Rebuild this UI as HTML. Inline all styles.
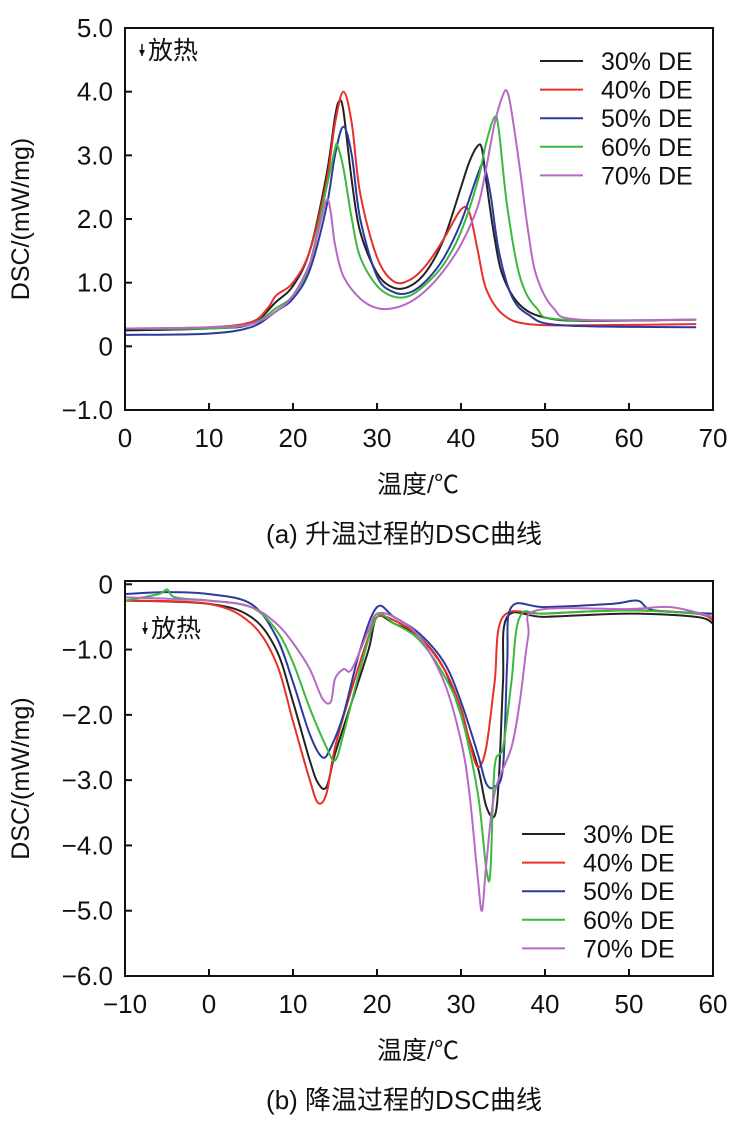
<!DOCTYPE html>
<html><head><meta charset="utf-8"><style>
body{margin:0;background:#fff;}
svg text{font-family:"Liberation Sans","Noto Sans CJK SC",sans-serif;fill:#111;}
</style></head><body>
<svg id="s" width="736" height="1129" viewBox="0 0 736 1129" xmlns="http://www.w3.org/2000/svg"></svg>
<script>
const seriesNames=["30% DE","40% DE","50% DE","60% DE","70% DE"];
const colors=["#222222","#e8302a","#2b3a9c","#3cb83c","#b56ac4"];
const heatX=[
[0,10,15,18,20,22,24,25,25.5,26,27,28,30,32,34,36,38,40,41,42,42.5,43,44,45,47,50,55,68],
[0,10,15,17,18,20,22,24,25,26,27,28,30,32,34,36,38,40,41,42,43,45,48,55,68],
[0,10,15,18,20,22,24,25,26,27,28,30,32,34,36,38,40,42,42.7,43.5,44.5,46,48,52,68],
[0,10,15,18,20,22,24,25,25.3,26,27,28,30,32,34,36,38,40,42,43,44,44.5,45.5,47,49,52,68],
[0,10,15,18,20,22,23,24,24.5,25,26,28,30,32,34,36,38,40,42,43,44,45,45.5,46,47,48,49,51,54,68]];
const heatY=[
[0.25,0.28,0.35,0.7,0.95,1.5,2.7,3.6,3.85,3.7,2.6,1.8,1.15,0.92,0.95,1.2,1.7,2.5,2.9,3.15,3.1,2.6,1.7,1.1,0.65,0.45,0.4,0.42],
[0.28,0.3,0.38,0.6,0.8,1.0,1.5,2.6,3.5,4.0,3.5,2.4,1.4,1.02,1.05,1.3,1.7,2.15,2.1,1.5,0.9,0.5,0.35,0.33,0.35],
[0.18,0.2,0.3,0.55,0.75,1.2,2.2,3.0,3.45,3.0,2.0,1.1,0.85,0.85,1.05,1.4,1.95,2.7,2.85,2.4,1.5,0.8,0.5,0.33,0.3],
[0.28,0.28,0.35,0.6,0.8,1.3,2.5,3.1,3.15,2.8,2.0,1.4,0.95,0.78,0.8,1.0,1.3,1.8,2.6,3.2,3.6,3.4,2.2,1.1,0.6,0.42,0.42],
[0.28,0.3,0.35,0.55,0.8,1.3,1.8,2.3,2.1,1.6,1.1,0.75,0.6,0.6,0.7,0.9,1.2,1.6,2.2,2.8,3.5,3.95,4.0,3.7,2.8,1.8,1.1,0.6,0.42,0.42]];
const coolX=[
[-10,0,5,8,10,12,13,14,15,17,19,20,22,25,28,30,32,33,34,34.5,35,35.5,40,50,58,60],
[-10,0,5,8,10,12,13,14,15,17,19,20,22,25,28,30,31,32,33,34,35,40,50,58,60],
[-10,-5,0,5,8,10,12,13.5,14.5,16,18,20,22,25,28,30,32,33,34,35,35.5,36,40,48,51,53,60],
[-10,-6,-5,-4,0,5,8,10,12,14,15,16,18,20,22,25,28,30,32,33,33.5,34,35,36,37,40,50,58,60],
[-10,0,5,8,10,12,13.5,14.5,15,16,17,19,20,22,25,28,30,31,32,32.5,33,34,36,37,38,39,50,55,60]];
const coolY=[
[-0.25,-0.3,-0.5,-1.0,-1.8,-2.7,-3.05,-3.1,-2.6,-1.8,-1.0,-0.5,-0.6,-0.8,-1.3,-2.0,-2.8,-3.4,-3.55,-3.0,-1.5,-0.5,-0.5,-0.45,-0.5,-0.6],
[-0.25,-0.3,-0.6,-1.2,-2.1,-3.0,-3.35,-3.2,-2.5,-1.6,-0.8,-0.5,-0.55,-0.8,-1.3,-1.9,-2.4,-2.8,-2.5,-1.5,-0.5,-0.45,-0.4,-0.45,-0.55],
[-0.15,-0.12,-0.15,-0.3,-0.8,-1.5,-2.3,-2.65,-2.5,-2.0,-1.0,-0.35,-0.5,-0.75,-1.2,-1.8,-2.6,-3.05,-3.1,-2.8,-1.2,-0.35,-0.35,-0.3,-0.25,-0.4,-0.45],
[-0.25,-0.15,-0.08,-0.2,-0.25,-0.35,-0.7,-1.2,-1.9,-2.5,-2.7,-2.3,-1.3,-0.5,-0.6,-0.85,-1.4,-2.0,-3.2,-4.35,-4.4,-2.8,-2.5,-1.5,-0.5,-0.45,-0.4,-0.45,-0.5],
[-0.2,-0.25,-0.35,-0.6,-0.9,-1.3,-1.75,-1.8,-1.45,-1.3,-1.3,-0.7,-0.45,-0.5,-0.8,-1.5,-2.4,-3.2,-4.5,-5.0,-4.3,-3.2,-2.5,-1.8,-0.8,-0.4,-0.38,-0.35,-0.5]];
const heatXTicks=[0,10,20,30,40,50,60,70];
const heatYTicks=[5,4,3,2,1,0,-1];
const heatYLabels=["5.0","4.0","3.0","2.0","1.0","0","\u22121.0"];
const coolXTicks=[-10,0,10,20,30,40,50,60];
const coolXLabels=["\u221210","0","10","20","30","40","50","60"];
const coolYTicks=[0,-1,-2,-3,-4,-5,-6];
const coolYLabels=["0","\u22121.0","\u22122.0","\u22123.0","\u22124.0","\u22125.0","\u22126.0"];

const svg=document.getElementById('s');
const NS="http://www.w3.org/2000/svg";
function mk(tag,attrs,parent){const e=document.createElementNS(NS,tag);for(const k in attrs)e.setAttribute(k,attrs[k]);(parent||svg).appendChild(e);return e;}
function txt(x,y,s,size,anchor,parent){const t=mk('text',{x:x,y:y,'font-size':size,'text-anchor':anchor||'middle'},parent);t.textContent=s;return t;}
function smooth(pts){let d='M'+pts[0][0].toFixed(1)+','+pts[0][1].toFixed(1);
 for(let i=0;i<pts.length-1;i++){const p0=pts[Math.max(0,i-1)],p1=pts[i],p2=pts[i+1],p3=pts[Math.min(pts.length-1,i+2)];
 const c1=[p1[0]+(p2[0]-p0[0])/6,p1[1]+(p2[1]-p0[1])/6],c2=[p2[0]-(p3[0]-p1[0])/6,p2[1]-(p3[1]-p1[1])/6];
 d+=' C'+c1[0].toFixed(1)+','+c1[1].toFixed(1)+' '+c2[0].toFixed(1)+','+c2[1].toFixed(1)+' '+p2[0].toFixed(1)+','+p2[1].toFixed(1);}return d;}

function chart(cfg){
 const g=mk('g',{});
 
 
 const sx=v=>cfg.x0+(v-cfg.xmin)/(cfg.xmax-cfg.xmin)*(cfg.x1-cfg.x0);
 const sy=v=>cfg.y0+(cfg.ymax-v)/(cfg.ymax-cfg.ymin)*(cfg.y1-cfg.y0);
 const lines=mk('g',{},g);
 
 
 cfg.xs.forEach((xa,i)=>{const pts=xa.map((x,j)=>[sx(x),sy(cfg.ys[i][j])]);
  const p=mk('path',{d:smooth(pts),fill:'none',stroke:colors[i],'stroke-width':2},lines);
  
  });
 const fr=mk('rect',{x:cfg.x0,y:cfg.y0,width:cfg.x1-cfg.x0,height:cfg.y1-cfg.y0,fill:'none',stroke:'#111','stroke-width':2},g);
 
 
 cfg.xt.forEach((v,i)=>{const x=sx(v);mk('line',{x1:x,x2:x,y1:cfg.y1,y2:cfg.y1-7,stroke:'#111','stroke-width':2},g);
  const t=txt(x,cfg.y1+37,cfg.xl[i],26,'middle',g);
  
  });
 cfg.yt.forEach((v,i)=>{const y=sy(v);mk('line',{x1:cfg.x0,x2:cfg.x0+7,y1:y,y2:y,stroke:'#111','stroke-width':2},g);
  const t=txt(113,y+9,cfg.yl[i],26,'end',g);
  
  });
 const yt=txt(0,0,'DSC/(mW/mg)',25,'middle',g);
 yt.setAttribute('transform','translate(29,'+((cfg.y0+cfg.y1)/2)+') rotate(-90)');
 
 
 const xt=txt(418,cfg.y1+83,'温度/℃',25,'middle',g);
 
 
 const cap=txt(404,cfg.y1+133,cfg.caption,26,'middle',g);
 
 
 const ex=mk('g',{},g);
 
 
 mk('line',{x1:cfg.ex[0],x2:cfg.ex[0],y1:cfg.ex[1]-10,y2:cfg.ex[1]+2,stroke:'#111','stroke-width':1.5},ex);
 mk('path',{d:'M'+(cfg.ex[0]-3)+','+(cfg.ex[1]-4)+' l6,0 l-3,6 z',fill:'#111'},ex);
 txt(cfg.ex[0]+6,cfg.ex[1]+5,'放热',25,'start',ex);
 const lg=mk('g',{},g);
 
 
 seriesNames.forEach((n,i)=>{const y=cfg.lg[1]+i*28.6;
  const e=mk('g',{},lg);
  
  
  mk('line',{x1:cfg.lg[0],x2:cfg.lg[0]+43,y1:y,y2:y,stroke:colors[i],'stroke-width':2},e);
  txt(cfg.lg[0]+61,y+9,n,25,'start',e);});
}
chart({name:'heating-chart',x0:125,x1:713,y0:28,y1:410,xmin:0,xmax:70,ymin:-1,ymax:5,xs:heatX,ys:heatY,
 xt:heatXTicks,xl:heatXTicks.map(String),yt:heatYTicks,yl:heatYLabels,caption:'(a) 升温过程的DSC曲线',ex:[142,54],lg:[540,61]});
chart({name:'cooling-chart',x0:125,x1:713,y0:581,y1:976,xmin:-10,xmax:60,ymin:-6,ymax:0.05,xs:coolX,ys:coolY,
 xt:coolXTicks,xl:coolXLabels,yt:coolYTicks,yl:coolYLabels,caption:'(b) 降温过程的DSC曲线',ex:[145,632],lg:[522,834]});
</script>
</body></html>
